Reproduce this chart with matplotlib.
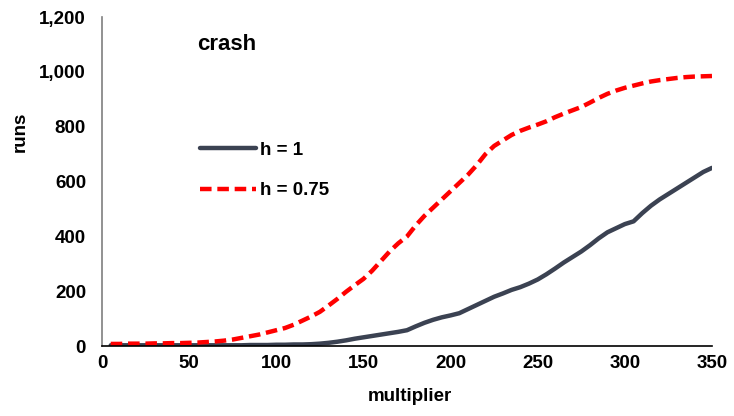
import matplotlib
matplotlib.use("Agg")
import matplotlib.pyplot as plt
from matplotlib.ticker import FuncFormatter

plt.rcParams['font.family'] = ['Liberation Sans', 'DejaVu Sans']

# multiplier values (every 5 from 5 to 350)
multiplier = list(range(5, 355, 5))

# runs that crashed, h = 1
runs_h1 = [3, 3, 3, 3, 3, 3, 3, 3, 3, 3,
           3, 3, 3, 3, 3, 3, 4, 4, 4, 5,
           5, 6, 6, 7, 9, 12, 16, 21, 27, 32,
           37, 42, 47, 52, 58, 72, 85, 96, 105, 112,
           120, 135, 150, 165, 180, 192, 205, 215, 228, 243,
           262, 283, 305, 325, 345, 368, 393, 415, 430, 445,
           455, 485, 512, 535, 555, 575, 595, 615, 635, 650]

# runs that crashed, h = 0.75
runs_h075 = [8, 8, 9, 9, 9, 10, 10, 11, 11, 12,
             13, 15, 17, 20, 24, 30, 36, 42, 50, 58,
             66, 78, 93, 108, 125, 148, 172, 198, 222, 245,
             275, 310, 345, 375, 400, 440, 475, 505, 535, 565,
             595, 625, 660, 700, 730, 750, 770, 785, 797, 808,
             820, 835, 848, 860, 872, 888, 905, 920, 932, 942,
             950, 958, 965, 970, 974, 978, 981, 983, 984, 985]

fig = plt.figure(figsize=(7.34, 4.16), dpi=100)
ax = fig.add_axes([0.139, 0.168, 0.831, 0.791])

ax.plot(multiplier, runs_h1, color='#3b4252', lw=3.2,
        solid_capstyle='round', label='h = 1')
ax.plot(multiplier, runs_h075, color='#ff0000', lw=3.2,
        dashes=(2.6, 1.3), label='h = 0.75')

ax.set_xlim(0, 350)
ax.set_ylim(0, 1200)
ax.set_xticks(range(0, 351, 50))
ax.set_yticks(range(0, 1201, 200))
ax.yaxis.set_major_formatter(FuncFormatter(lambda v, p: f"{int(v):,}"))

for s in ['top', 'right']:
    ax.spines[s].set_visible(False)
ax.spines['left'].set_color('#7f7f7f')
ax.spines['bottom'].set_color('#000000')
ax.spines['left'].set_linewidth(1.2)
ax.spines['bottom'].set_linewidth(1.2)

ax.tick_params(axis='both', length=0, labelsize=13.5)
ax.tick_params(axis='x', pad=6.5)
ax.tick_params(axis='y', pad=11.5)
for lab in ax.get_xticklabels() + ax.get_yticklabels():
    lab.set_fontweight('bold')

ax.set_xlabel('multiplier', fontsize=13.5, fontweight='bold')
ax.set_ylabel('runs', fontsize=13.5, fontweight='bold')
ax.xaxis.set_label_coords(0.505, -0.128)
ax.yaxis.set_label_coords(-0.12, 0.65)

ax.text(54.5, 1099, 'crash', fontsize=16, fontweight='bold',
        va='center', ha='left')

ax.legend(loc='upper left', bbox_to_anchor=(0.161, 0.621), frameon=False,
          borderpad=0, borderaxespad=0, handlelength=3.0, handletextpad=0.2,
          labelspacing=1.24, prop={'size': 13.5, 'weight': 'bold'})

fig.savefig('out.png', dpi=100)
